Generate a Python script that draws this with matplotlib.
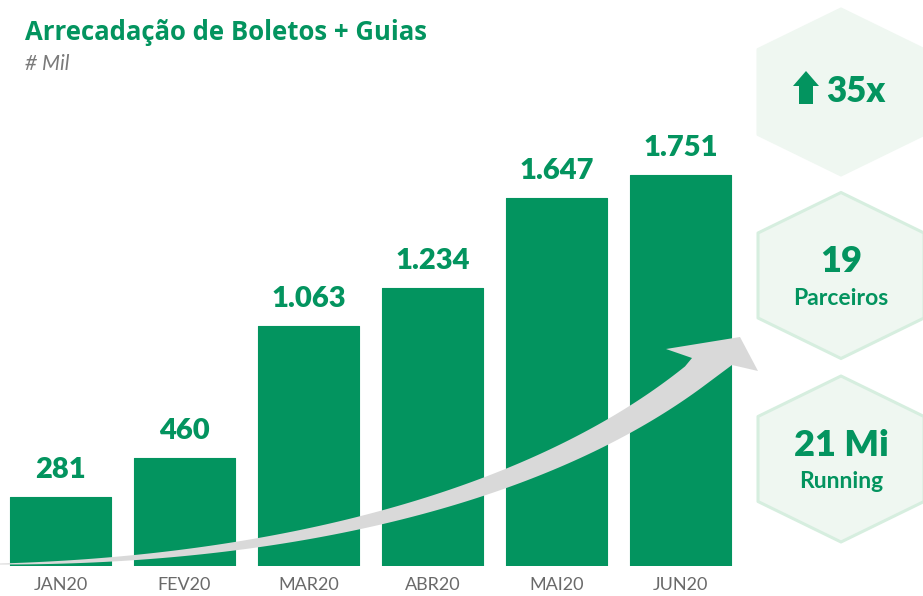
import numpy as np
import matplotlib
matplotlib.use("Agg")
import matplotlib.pyplot as plt
from matplotlib.patches import Polygon

# ---- data ----
months = ["JAN20", "FEV20", "MAR20", "ABR20", "MAI20", "JUN20"]
values = [281, 460, 1063, 1234, 1647, 1751]
value_labels = ["281", "460", "1.063", "1.234", "1.647", "1.751"]
title = "Arrecadação de Boletos + Guias"
subtitle = "# Mil"
kpi_big = ["35x", "19", "21 Mi"]
kpi_small = ["", "Parceiros", "Running"]

GREEN = "#03945f"
GRAY_TXT = "#6a6a6a"
ARROW_GRAY = "#d9d9d9"
HEX_FILL = "#eff7f1"
HEX_EDGE = "#d6eedf"
FONT = "Lato"

W, H = 923, 596
fig = plt.figure(figsize=(W / 100, H / 100), dpi=100)

# ---- main bar axes ----
base = -35
ax = fig.add_axes([0, 30 / H, 742 / W, 470 / H])
x = np.arange(len(months))
bars = ax.bar(x, np.array(values) - base, bottom=base, width=0.815,
              color=GREEN, edgecolor=GREEN, linewidth=0.8, joinstyle="round",
              zorder=2)
ax.set_xlim(-0.488, 5.496)
ax.set_ylim(base, base + 470 / 0.2189)
for xi, v, lab in zip(x, values, value_labels):
    ax.annotate(lab, (xi, v), xytext=(0, 27), textcoords="offset pixels",
                ha="center", va="center", fontsize=21, fontweight="heavy",
                color=GREEN, family=FONT)
ax.set_xticks(x)
ax.set_xticklabels(months, fontsize=13, color=GRAY_TXT, family=FONT,
                   fontweight="normal")
ax.tick_params(axis="x", length=0, pad=8)
ax.set_yticks([])
for s in ax.spines.values():
    s.set_visible(False)
ax.patch.set_alpha(0)

# ---- overlay for decorations ----
ov = fig.add_axes([0, 0, 1, 1], zorder=5)
ov.set_xlim(0, W)
ov.set_ylim(H, 0)
ov.axis("off")
ov.patch.set_alpha(0)

# curved growth arrow
P0, P1, P2, P3 = map(np.array, [(0, 564), (300, 560), (560, 490), (712, 362)])
t = np.linspace(0, 0.96, 120)
pts = ((1 - t) ** 3)[:, None] * P0 + (3 * t * (1 - t) ** 2)[:, None] * P1 \
    + (3 * t ** 2 * (1 - t))[:, None] * P2 + (t ** 3)[:, None] * P3
d = (3 * (1 - t) ** 2)[:, None] * (P1 - P0) + (6 * t * (1 - t))[:, None] * (P2 - P1) \
    + (3 * t ** 2)[:, None] * (P3 - P2)
d = d / np.linalg.norm(d, axis=1)[:, None]
nrm = np.column_stack([d[:, 1], -d[:, 0]])
w = 1.0 + 27 * t
upper, lower = pts + nrm * (w / 2)[:, None], pts - nrm * (w / 2)[:, None]
if upper[-1, 1] > lower[-1, 1]:
    upper, lower = lower, upper
head = np.array([(692, 358), (666, 349), (740, 337), (758, 371), (732, 365)])
poly = np.vstack([upper, head, lower[::-1]])
ov.add_patch(Polygon(poly, closed=True, facecolor=ARROW_GRAY,
                     edgecolor="none", zorder=3))

# hexagons
def hexagon(cx, cy):
    hw, r, s = 83, 83, 42.5
    return np.array([(cx, cy - r), (cx + hw, cy - s), (cx + hw, cy + s),
                     (cx, cy + r), (cx - hw, cy + s), (cx - hw, cy - s)])

centers = [(841, 92), (841, 275.5), (841, 459)]
for i, (cx, cy) in enumerate(centers):
    ec = HEX_FILL if i == 0 else HEX_EDGE
    ov.add_patch(Polygon(hexagon(cx, cy), closed=True, facecolor=HEX_FILL,
                         edgecolor=ec, linewidth=2.2, joinstyle="round",
                         zorder=2))

# KPI texts
ov.text(856, 92, kpi_big[0], ha="center", va="center", fontsize=25,
        fontweight="heavy", color=GREEN, family=FONT, zorder=4)
ov.add_patch(Polygon([(793, 86), (806, 71), (819, 86), (813, 86), (813, 104),
                      (799, 104), (799, 86)], closed=True, facecolor=GREEN,
                     edgecolor="none", zorder=4))
for (cx, cy), big, small in zip(centers[1:], kpi_big[1:], kpi_small[1:]):
    ov.text(cx, cy - 14, big, ha="center", va="center", fontsize=26,
            fontweight="heavy", color=GREEN, family=FONT, zorder=4)
    ov.text(cx, cy + 23, small, ha="center", va="center", fontsize=16.5,
            fontweight="bold", color=GREEN, family=FONT, zorder=4)

# title / subtitle
ov.text(25, 32, title, ha="left", va="center", fontsize=18.5, fontweight="bold",
        color=GREEN, family="Open Sans")
ov.text(25, 64, subtitle, ha="left", va="center", fontsize=15, style="italic",
        color="#7a7a7a", family=FONT)

fig.savefig("out.png", dpi=100)
